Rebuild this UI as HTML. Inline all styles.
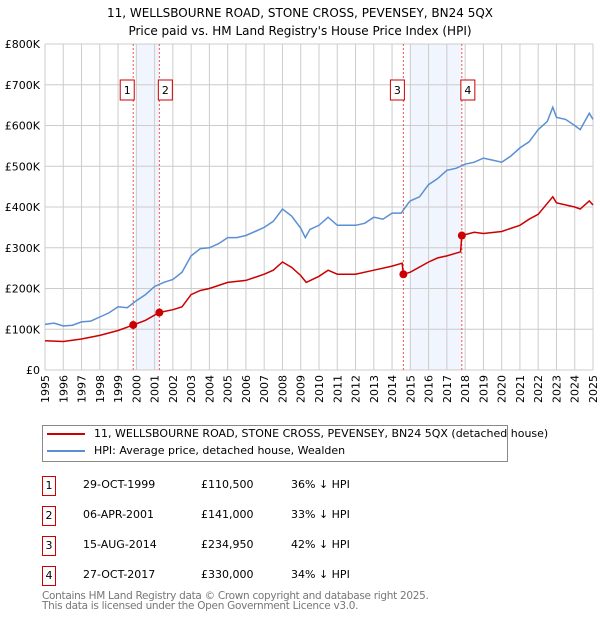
<!DOCTYPE html>
<html><head><meta charset="utf-8"><style>
body{margin:0;background:#fff;font-family:"DejaVu Sans","Liberation Sans",sans-serif;}
#wrap{position:relative;width:600px;height:620px;overflow:hidden}
.t{position:absolute;font-size:11px;color:#000;white-space:nowrap}
.box{position:absolute;width:12px;height:18px;border:1px solid #c00;font-size:11px;text-align:center;line-height:18px}
</style></head><body><div id="wrap">
<svg id="chart" width="600" height="420" style="position:absolute;left:0;top:0"></svg>
<div style="position:absolute;left:42px;top:425px;width:464px;height:35px;border:1px solid #888"></div>
<div style="position:absolute;left:47px;top:433px;width:38px;height:2px;background:#c00"></div>
<div class="t" style="left:94px;top:427px">11, WELLSBOURNE ROAD, STONE CROSS, PEVENSEY, BN24 5QX (detached house)</div>
<div style="position:absolute;left:47px;top:450px;width:38px;height:2px;background:#5b8fd4"></div>
<div class="t" style="left:94px;top:444px">HPI: Average price, detached house, Wealden</div>
<div id="rows"></div>
<div class="t" style="left:42px;top:591px;color:#777;font-size:10.5px;line-height:10px;letter-spacing:-0.3px">Contains HM Land Registry data © Crown copyright and database right 2025.<br>This data is licensed under the Open Government Licence v3.0.</div>
</div>
<script>
const hpiYears=[1995,1995.5,1996,1996.5,1997,1997.5,1998,1998.5,1999,1999.5,2000,2000.5,2001,2001.5,2002,2002.5,2003,2003.5,2004,2004.5,2005,2005.5,2006,2006.5,2007,2007.5,2008,2008.5,2009,2009.25,2009.5,2010,2010.5,2011,2011.5,2012,2012.5,2013,2013.5,2014,2014.5,2014.9,2015,2015.5,2016,2016.5,2017,2017.5,2018,2018.5,2019,2019.5,2020,2020.5,2021,2021.5,2022,2022.5,2022.8,2023,2023.5,2024,2024.3,2024.8,2025];
const hpiValues=[112,115,108,110,118,120,130,140,155,153,170,185,205,215,222,240,280,298,300,310,325,325,330,340,350,365,395,378,348,325,345,355,375,355,355,355,360,375,370,385,385,410,415,425,455,470,490,495,505,510,520,515,510,525,545,560,590,610,645,620,615,600,590,630,615];
const redYears=[1995,1996,1997,1998,1999,1999.83,2000.5,2001.26,2002,2002.5,2003,2003.5,2004,2005,2006,2007,2007.5,2008,2008.5,2009,2009.3,2010,2010.5,2011,2012,2013,2014,2014.55,2014.62,2015,2016,2016.5,2017,2017.75,2017.82,2018.5,2019,2020,2021,2021.5,2022,2022.8,2023,2024,2024.3,2024.8,2025];
const redValues=[72,70,76,85,97,110.5,122,141,148,155,185,195,200,215,220,235,245,265,252,232,215,230,245,235,235,245,255,262,234.95,240,265,275,280,290,330,338,335,340,355,370,382,425,410,400,395,415,405];
const saleYears=[1999.83,2001.26,2014.62,2017.82];
const saleValues=[110.5,141,234.95,330];
const saleLabels=["1","2","3","4"];
const saleDates=["29-OCT-1999","06-APR-2001","15-AUG-2014","27-OCT-2017"];
const salePrices=["£110,500","£141,000","£234,950","£330,000"];
const saleDiffs=["36% ↓ HPI","33% ↓ HPI","42% ↓ HPI","34% ↓ HPI"];
const bandStarts=[2000,2015];
const bandEnds=[2001.26,2017.82];
const yTicks=[0,100,200,300,400,500,600,700,800];
const yTickLabels=["£0","£100K","£200K","£300K","£400K","£500K","£600K","£700K","£800K"];
const xTicks=[];for(let y=1995;y<=2025;y++)xTicks.push(y);

const X0=45,X1=593,Y0=370,Y1=44;
const sx=v=>X0+(v-1995)/30*(X1-X0);
const sy=v=>Y0-v/800*(Y0-Y1);
const NS="http://www.w3.org/2000/svg";
const svg=document.getElementById('chart');
function mk(tag,attrs,parent){const e=document.createElementNS(NS,tag);for(const k in attrs)e.setAttribute(k,attrs[k]);(parent||svg).appendChild(e);return e;}
function txt(s,attrs){const e=mk('text',attrs);e.textContent=s;return e;}
const t1=txt("11, WELLSBOURNE ROAD, STONE CROSS, PEVENSEY, BN24 5QX",{x:300,y:17,'text-anchor':'middle','font-size':12,'font-family':'DejaVu Sans, sans-serif'});

const t2=txt("Price paid vs. HM Land Registry's House Price Index (HPI)",{x:300,y:35,'text-anchor':'middle','font-size':12,'font-family':'DejaVu Sans, sans-serif'});

bandStarts.forEach((b,i)=>{const r=mk('rect',{x:sx(b),y:Y1,width:sx(bandEnds[i])-sx(b),height:Y0-Y1,fill:'#eef3fc',opacity:0.8});
});
xTicks.forEach(y=>{const l=mk('line',{x1:sx(y),x2:sx(y),y1:Y1,y2:Y0,stroke:'#ccc','stroke-width':1});

const tx=sx(y)+4,ty=Y0+5;
const t=txt(String(y),{x:tx,y:ty,transform:`rotate(-90 ${tx} ${ty})`,'text-anchor':'end','font-size':11,'font-family':'DejaVu Sans, sans-serif'});
});
yTicks.forEach((v,i)=>{const l=mk('line',{x1:X0,x2:X1,y1:sy(v),y2:sy(v),stroke:'#ccc','stroke-width':1});

const t=txt(yTickLabels[i],{x:40,y:sy(v)+4,'text-anchor':'end','font-size':11,'font-family':'DejaVu Sans, sans-serif'});
});
saleYears.forEach((y,i)=>{const l=mk('line',{x1:sx(y),x2:sx(y),y1:Y1,y2:Y0,stroke:'#e55','stroke-width':1,'stroke-dasharray':'2,2'});
});
function path(xs,vs,color,name){const d=xs.map((x,i)=>(i?'L':'M')+sx(x).toFixed(1)+','+sy(vs[i]).toFixed(1)).join('');
const p=mk('path',{d:d,fill:'none',stroke:color,'stroke-width':1.5});}
path(hpiYears,hpiValues,'#5b8fd4','hpi-line');
path(redYears,redValues,'#cc0000','price-paid-line');
saleYears.forEach((y,i)=>{const c=mk('circle',{cx:sx(y),cy:sy(saleValues[i]),r:4,fill:'#cc0000'});

const g=mk('rect',{x:sx(y)+(i%2==0?-11:1)-2,y:80,width:14,height:20,fill:'#fff',stroke:'#c00','stroke-width':1});

const t=txt(saleLabels[i],{x:sx(y)+(i%2==0?-4:8)-2,y:94,'text-anchor':'middle','font-size':11,'font-family':'DejaVu Sans, sans-serif'});
});
const rows=document.getElementById('rows');
saleLabels.forEach((s,i)=>{const top=476+i*30;
const html=`<div class="box" style="left:42px;top:${top}px">${s}</div>
<div class="t" style="left:83px;top:${top+2}px">${saleDates[i]}</div>
<div class="t" style="left:201px;top:${top+2}px">${salePrices[i]}</div>
<div class="t" style="left:291px;top:${top+2}px">${saleDiffs[i]}</div>`;
rows.insertAdjacentHTML('beforeend',html);});
</script></body></html>
